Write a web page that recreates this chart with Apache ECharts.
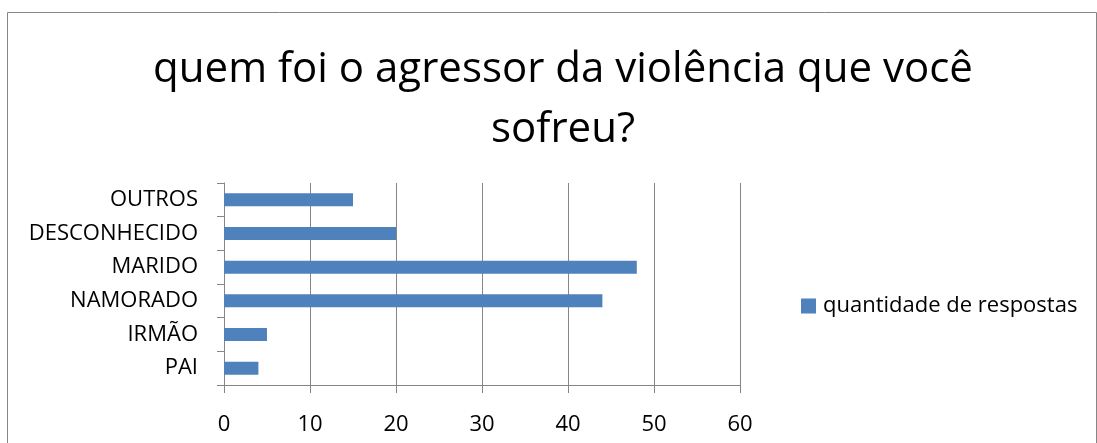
<!DOCTYPE html>
<html>
<head>
<meta charset="utf-8">
<script src="https://cdn.jsdelivr.net/npm/echarts@6/dist/echarts.min.js"></script>
<style>
  html, body { margin: 0; padding: 0; background: #fff; }
  #chart { width: 1097px; height: 443px; }
</style>
</head>
<body>
<div id="chart"></div>
<script>
// dados do gráfico
var categorias = ['PAI', 'IRMÃO', 'NAMORADO', 'MARIDO', 'DESCONHECIDO', 'OUTROS'];
var respostas = [4, 5, 44, 48, 20, 15];
var nomeSerie = 'quantidade de respostas';
var titulo = 'quem foi o agressor da violência que você\nsofreu?';

var fonte = '"Open Sans", Lato, sans-serif';
var chart = echarts.init(document.getElementById('chart'));

var option = {
  backgroundColor: '#fff',
  animation: false,
  graphic: [{
    type: 'rect',
    shape: { x: 7.5, y: 12.5, width: 1089, height: 440 },
    style: { fill: 'none', stroke: '#868686', lineWidth: 1 },
    silent: true
  }],
  title: {
    text: titulo,
    left: 558,
    textAlign: 'center',
    top: 35,
    textStyle: {
      fontFamily: fonte,
      fontSize: 42,
      fontWeight: 'normal',
      color: '#000',
      lineHeight: 60
    }
  },
  legend: {
    data: [nomeSerie],
    left: 796,
    top: 290,
    orient: 'vertical',
    icon: 'rect',
    itemWidth: 15,
    itemHeight: 15,
    itemGap: 0,
    textStyle: { fontFamily: fonte, fontSize: 22, color: '#000', padding: [0, 0, 0, 2] }
  },
  grid: { left: 224, right: 357, top: 183, bottom: 58 },
  xAxis: {
    type: 'value',
    min: 0,
    max: 60,
    interval: 10,
    axisLine: { show: true, lineStyle: { color: '#868686' } },
    axisTick: { show: true, length: 8, lineStyle: { color: '#868686' } },
    splitLine: { show: true, lineStyle: { color: '#868686' } },
    axisLabel: { fontFamily: fonte, fontSize: 22, color: '#000', margin: 29 }
  },
  yAxis: {
    type: 'category',
    data: categorias,
    axisLine: { show: true, lineStyle: { color: '#868686' } },
    axisTick: { show: true, length: 7, lineStyle: { color: '#868686' } },
    axisLabel: { fontFamily: fonte, fontSize: 22, color: '#000', margin: 26 }
  },
  series: [{
    name: nomeSerie,
    type: 'bar',
    data: respostas,
    barWidth: 13,
    itemStyle: { color: '#4F81BD' }
  }]
};

chart.setOption(option);
</script>
</body>
</html>
